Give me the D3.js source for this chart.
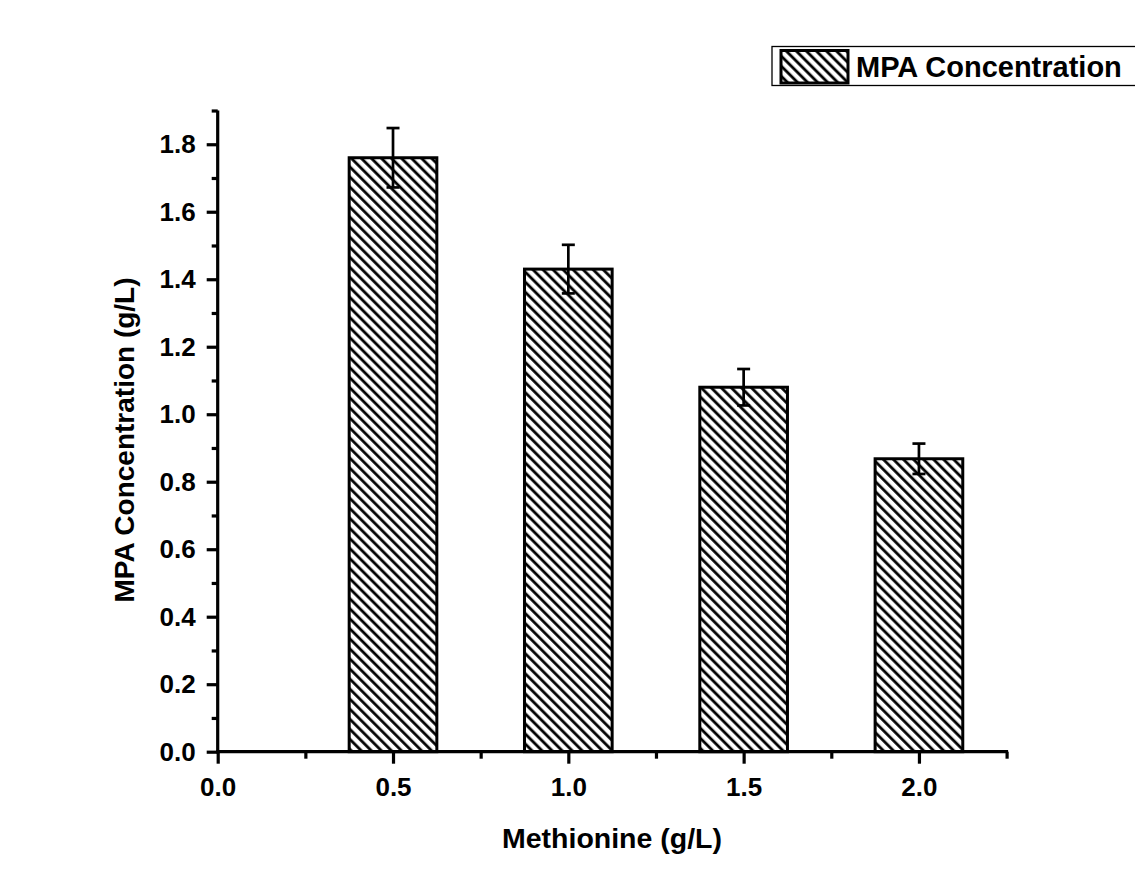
<!DOCTYPE html>
<html>
<head>
<meta charset="utf-8">
<script src="https://cdn.jsdelivr.net/npm/d3@7"></script>
<style>
  html, body { margin: 0; padding: 0; background: #ffffff; }
  svg { display: block; }
  text { font-family: "Liberation Sans", Arial, sans-serif; font-weight: bold; fill: #000; }
</style>
</head>
<body>
<script>
// ---- data ----
const categories = [0.5, 1.0, 1.5, 2.0];          // Methionine (g/L)
const values     = [1.76, 1.43, 1.08, 0.868];     // MPA concentration (g/L)
const errors     = [0.088, 0.072, 0.054, 0.045];  // error bar half-lengths
const xTickLabels = ["0.0", "0.5", "1.0", "1.5", "2.0"];
const yTickLabels = ["0.0", "0.2", "0.4", "0.6", "0.8", "1.0", "1.2", "1.4", "1.6", "1.8"];
const seriesName = "MPA Concentration";

const W = 1135, H = 891;
const svg = d3.select("body").append("svg").attr("width", W).attr("height", H);

const x = d3.scaleLinear().domain([0, 2.25]).range([217.7, 1006.6]);
const y = d3.scaleLinear().domain([0, 1.9]).range([751.7, 110.5]);
const barW = 0.25;

// hatch pattern
const defs = svg.append("defs");
const pat = defs.append("pattern")
  .attr("id", "hatch").attr("patternUnits", "userSpaceOnUse")
  .attr("width", 7.1).attr("height", 7.1)
  .attr("patternTransform", "rotate(-45)");
pat.append("rect").attr("width", 7.1).attr("height", 7.1).attr("fill", "#fff");
pat.append("line").attr("x1", 1.6).attr("y1", -1).attr("x2", 1.6).attr("y2", 8.1)
  .attr("stroke", "#000").attr("stroke-width", 2.8);

// bars
svg.append("g").selectAll("rect").data(categories).join("rect")
  .attr("x", (d) => x(d - barW / 2))
  .attr("y", (d, i) => y(values[i]))
  .attr("width", (d) => x(d + barW / 2) - x(d - barW / 2))
  .attr("height", (d, i) => y(0) - y(values[i]))
  .attr("fill", "url(#hatch)")
  .attr("stroke", "#000").attr("stroke-width", 3);

// error bars
const eg = svg.append("g").attr("stroke", "#000").attr("stroke-width", 2.7);
categories.forEach((c, i) => {
  const cx = x(c), hi = y(values[i] + errors[i]), lo = y(values[i] - errors[i]);
  eg.append("line").attr("x1", cx).attr("x2", cx).attr("y1", hi).attr("y2", lo);
  eg.append("line").attr("x1", cx - 6.5).attr("x2", cx + 6.5).attr("y1", hi).attr("y2", hi);
  eg.append("line").attr("x1", cx - 6.5).attr("x2", cx + 6.5).attr("y1", lo).attr("y2", lo);
});

// axes
const yMajor = yTickLabels.map(Number);
const yMinor = d3.range(0.1, 1.95, 0.2).map(v => +v.toFixed(2));
const xMajor = xTickLabels.map(Number);
const xMinor = [0.25, 0.75, 1.25, 1.75, 2.25];
const FONT = "'Liberation Sans', Arial, sans-serif";

const yAxis = d3.axisLeft(y).tickValues(yMajor).tickSize(11).tickPadding(11)
  .tickFormat((d, i) => yTickLabels[i]);
const gy = svg.append("g").attr("transform", `translate(${x(0)},0)`).call(yAxis);
gy.select(".domain").attr("stroke-width", 3.2).attr("d", `M0,${y(0) + 1.5}V${y(1.9)}`);
gy.selectAll(".tick line").attr("stroke-width", 3.2);
gy.selectAll(".tick text").style("font-size", "26px").style("font-family", FONT).style("font-weight", "bold");

const gyMinor = svg.append("g").attr("transform", `translate(${x(0)},0)`)
  .call(d3.axisLeft(y).tickValues(yMinor).tickSize(6).tickFormat(""));
gyMinor.select(".domain").remove();
gyMinor.selectAll(".tick line").attr("stroke-width", 3.2);

const xAxis = d3.axisBottom(x).tickValues(xMajor).tickSize(12).tickPadding(14)
  .tickFormat((d, i) => xTickLabels[i]);
const gx = svg.append("g").attr("transform", `translate(0,${y(0)})`).call(xAxis);
gx.select(".domain").attr("stroke-width", 3.2).attr("d", `M${x(0) - 1.5},0H${x(2.25) + 1.5}`);
gx.selectAll(".tick line").attr("stroke-width", 3.2);
gx.selectAll(".tick text").style("font-size", "26px").style("font-family", FONT).style("font-weight", "bold");

const gxMinor = svg.append("g").attr("transform", `translate(0,${y(0)})`)
  .call(d3.axisBottom(x).tickValues(xMinor).tickSize(7).tickFormat(""));
gxMinor.select(".domain").remove();
gxMinor.selectAll(".tick line").attr("stroke-width", 3.2);

// axis titles
svg.append("text").attr("x", 612).attr("y", 848).attr("text-anchor", "middle")
  .style("font-size", "28.5px").text("Methionine (g/L)");
svg.append("text").attr("transform", `translate(133.5,440) rotate(-90)`).attr("text-anchor", "middle")
  .style("font-size", "28px").text("MPA Concentration (g/L)");

// legend
const lg = svg.append("g");
lg.append("rect").attr("x", 772).attr("y", 46.5).attr("width", 380).attr("height", 39)
  .attr("fill", "#fff").attr("stroke", "#000").attr("stroke-width", 1.3);
lg.append("rect").attr("x", 781).attr("y", 50.5).attr("width", 67).attr("height", 32.5)
  .attr("fill", "url(#hatch)").attr("stroke", "#000").attr("stroke-width", 3);
lg.append("text").attr("x", 856).attr("y", 76.5).style("font-size", "29px").text(seriesName);
</script>
</body>
</html>
